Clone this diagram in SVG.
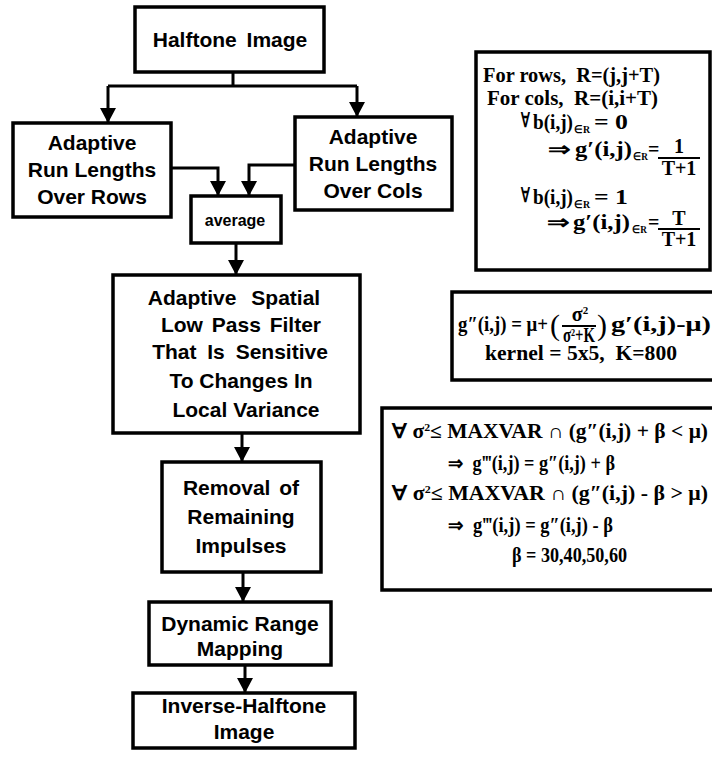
<svg xmlns="http://www.w3.org/2000/svg" width="712" height="760" viewBox="0 0 712 760">
<defs>
<marker id="ah" viewBox="0 0 15 16" refX="15" refY="8" markerWidth="15" markerHeight="16" markerUnits="userSpaceOnUse" orient="auto">
<path d="M0,0 L15,8 L0,16 z" fill="#000"/>
</marker>
<style>
.box{fill:#fff;stroke:#000;stroke-width:3.5}
.lbl{font-family:"Liberation Sans",Arial,sans-serif;font-weight:bold;font-size:21px;text-anchor:middle;fill:#000}
.sm{font-size:16px}
.fm{font-family:"Liberation Serif","Times New Roman",serif;font-weight:bold;font-size:20px;fill:#000;white-space:pre}
.c{text-anchor:middle}
.sub{font-size:11px}
.par{font-family:"Liberation Serif","Times New Roman",serif;font-size:30px;fill:#000}
.con{fill:none;stroke:#000;stroke-width:3}
.bar{stroke:#000;stroke-width:2}
</style>
</defs>
<rect width="712" height="760" fill="#fff"/>

<g id="connectors">
<path class="con" d="M233,72 V86"/>
<path class="con" d="M108,86 H357"/>
<path class="con" d="M108,86 V123" marker-end="url(#ah)"/>
<path class="con" d="M357,86 V117" marker-end="url(#ah)"/>
<path class="con" d="M171,168 H218 V196" marker-end="url(#ah)"/>
<path class="con" d="M295,165 H249 V196" marker-end="url(#ah)"/>
<path class="con" d="M236,243 V275" marker-end="url(#ah)"/>
<path class="con" d="M242,433 V462" marker-end="url(#ah)"/>
<path class="con" d="M243,572 V602" marker-end="url(#ah)"/>
<path class="con" d="M245,665 V693" marker-end="url(#ah)"/>
</g>

<g id="halftone">
<rect class="box" x="135" y="7" width="189" height="65"/>
<text class="lbl" x="230" y="47" word-spacing="4">Halftone Image</text>
</g>

<g id="rows">
<rect class="box" x="13" y="123" width="158" height="94"/>
<text class="lbl" x="92" y="150">Adaptive</text>
<text class="lbl" x="92" y="177">Run Lengths</text>
<text class="lbl" x="92" y="204">Over Rows</text>
</g>

<g id="cols">
<rect class="box" x="295" y="117" width="157" height="93"/>
<text class="lbl" x="373" y="144">Adaptive</text>
<text class="lbl" x="373" y="171">Run Lengths</text>
<text class="lbl" x="373" y="198">Over Cols</text>
</g>

<g id="average">
<rect class="box" x="191" y="196" width="90" height="47"/>
<text class="lbl sm" x="235" y="226">average</text>
</g>

<g id="filter">
<rect class="box" x="113" y="275" width="247" height="158"/>
<text class="lbl" x="234" y="305" word-spacing="9">Adaptive Spatial</text>
<text class="lbl" x="241" y="332" word-spacing="3">Low Pass Filter</text>
<text class="lbl" x="240" y="359" word-spacing="5">That Is Sensitive</text>
<text class="lbl" x="241" y="388">To Changes In</text>
<text class="lbl" x="246" y="417">Local Variance</text>
</g>

<g id="removal">
<rect class="box" x="162" y="462" width="159" height="110"/>
<text class="lbl" x="241" y="495" word-spacing="3">Removal of</text>
<text class="lbl" x="241" y="524">Remaining</text>
<text class="lbl" x="241" y="553">Impulses</text>
</g>

<g id="dynamic">
<rect class="box" x="149" y="602" width="182" height="63"/>
<text class="lbl" x="240" y="631">Dynamic Range</text>
<text class="lbl" x="240" y="656">Mapping</text>
</g>

<g id="inverse">
<rect class="box" x="133" y="693" width="222" height="55"/>
<text class="lbl" x="244" y="713">Inverse-Halftone</text>
<text class="lbl" x="244" y="739">Image</text>
</g>

<g id="runlength-rule">
<rect class="box" x="476" y="52" width="234" height="218"/>
<text class="fm" x="483" y="82" textLength="177" lengthAdjust="spacingAndGlyphs">For rows,  R=(j,j+T)</text>
<text class="fm" x="487" y="105" textLength="171" lengthAdjust="spacingAndGlyphs">For cols,  R=(i,i+T)</text>

<text class="fm" x="521" y="127" font-size="13" textLength="9" lengthAdjust="spacingAndGlyphs">∀</text>
<text class="fm" x="533" y="129" font-size="21" textLength="40" lengthAdjust="spacingAndGlyphs">b(i,j)</text>
<text class="fm sub" x="574" y="133" textLength="16" lengthAdjust="spacingAndGlyphs">∈R</text>
<text class="fm" x="594" y="129" font-size="21" textLength="34" lengthAdjust="spacingAndGlyphs">= 0</text>

<text class="fm" x="548" y="156" textLength="23" lengthAdjust="spacingAndGlyphs">⇒</text>
<text class="fm" x="575" y="156" font-size="21" textLength="57" lengthAdjust="spacingAndGlyphs">g′(i,j)</text>
<text class="fm sub" x="633" y="160" textLength="15" lengthAdjust="spacingAndGlyphs">∈R</text>
<text class="fm" x="648" y="156">=</text>
<text class="fm c" x="679" y="153">1</text>
<path class="bar" d="M658,158 H700"/>
<text class="fm c" x="679" y="175">T+1</text>

<text class="fm" x="521" y="202" font-size="13" textLength="9" lengthAdjust="spacingAndGlyphs">∀</text>
<text class="fm" x="533" y="204" font-size="21" textLength="40" lengthAdjust="spacingAndGlyphs">b(i,j)</text>
<text class="fm sub" x="574" y="208" textLength="16" lengthAdjust="spacingAndGlyphs">∈R</text>
<text class="fm" x="594" y="204" font-size="21" textLength="34" lengthAdjust="spacingAndGlyphs">= 1</text>

<text class="fm" x="547" y="229" textLength="23" lengthAdjust="spacingAndGlyphs">⇒</text>
<text class="fm" x="573" y="229" font-size="21" textLength="57" lengthAdjust="spacingAndGlyphs">g′(i,j)</text>
<text class="fm sub" x="632" y="233" textLength="15" lengthAdjust="spacingAndGlyphs">∈R</text>
<text class="fm" x="648" y="229">=</text>
<text class="fm c" x="679" y="225">T</text>
<path class="bar" d="M658,229 H700"/>
<text class="fm c" x="679" y="246">T+1</text>
</g>

<g id="filter-rule">
<rect class="box" x="452" y="292" width="270" height="88"/>
<text class="fm" x="458" y="331" textLength="90" lengthAdjust="spacingAndGlyphs">g″(i,j) = μ+</text>
<text class="par" x="550" y="335">(</text>
<text class="fm c" x="580" y="321" font-size="18">σ<tspan class="sub" dy="-7">2</tspan></text>
<path class="bar" d="M562,326 H596"/>
<text class="fm" x="563" y="342" font-size="15" textLength="32" lengthAdjust="spacingAndGlyphs">σ<tspan class="sub" dy="-6">2</tspan><tspan dy="6">+K</tspan></text>
<text class="par" x="597" y="335">)</text>
<text class="fm" x="611" y="331" textLength="100" lengthAdjust="spacingAndGlyphs">g′(i,j)-μ)</text>
<text class="fm" x="485" y="360" textLength="192" lengthAdjust="spacingAndGlyphs">kernel = 5x5,  K=800</text>
</g>

<g id="impulse-rule">
<rect class="box" x="382" y="408" width="340" height="182"/>
<text class="fm" x="392" y="438" textLength="316" lengthAdjust="spacingAndGlyphs">∀ σ<tspan class="sub" dy="-7">2</tspan><tspan dy="7">≤ MAXVAR ∩ (g″(i,j) + β &lt; μ)</tspan></text>
<text class="fm" x="448" y="470" textLength="167" lengthAdjust="spacingAndGlyphs">⇒  g‴(i,j) = g″(i,j) + β</text>
<text class="fm" x="392" y="500" textLength="316" lengthAdjust="spacingAndGlyphs">∀ σ<tspan class="sub" dy="-7">2</tspan><tspan dy="7">≤ MAXVAR ∩ (g″(i,j) - β &gt; μ)</tspan></text>
<text class="fm" x="448" y="532" textLength="165" lengthAdjust="spacingAndGlyphs">⇒  g‴(i,j) = g″(i,j) - β</text>
<text class="fm" x="512" y="562" textLength="115" lengthAdjust="spacingAndGlyphs">β = 30,40,50,60</text>
</g>
</svg>
